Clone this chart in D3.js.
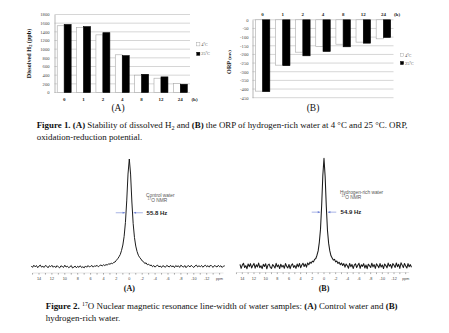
<!DOCTYPE html>
<html><head><meta charset="utf-8">
<script src="https://cdn.jsdelivr.net/npm/d3@7"></script>
<style>body{margin:0;background:#fff}svg{display:block}</style>
</head><body><svg id="c" width="449" height="333"></svg>
<script>
// ---------- data ----------
const hours = ["0","1","2","4","8","12","24"];
const seriesNames = ["4\u00baC","25\u00baC"];
const h2Cold = [1540,1500,1330,870,400,330,210];
const h2Warm = [1570,1520,1380,850,420,360,190];
const orpCold = [-412,-262,-187,-154,-141,-129,-110];
const orpWarm = [-415,-265,-208,-183,-156,-135,-102];
const h2Ticks = [0,200,400,600,800,1000,1200,1400,1600,1800];
const orpTicks = [0,-50,-100,-150,-200,-250,-300,-350,-400,-450];
const nmrTicks = [14,12,10,8,6,4,2,0,-2,-4,-6,-8,-10,-12];
const nmrStep = 0.2;
const nmrStartA = 15.2;
const nmrA = [
0.5,-0.8,1.2,-0.3,0.9,-1.1,0.4,1.3,-0.6,0.2,
-0.9,1.0,0.3,-1.2,0.7,-0.2,1.1,-0.7,0.5,-1.0,
0.8,-0.4,-1.3,0.6,0.1,-0.9,1.2,-0.5,0.3,-1.1,
-0.3,0.9,-1.4,-0.6,0.4,-1.2,0.2,-0.8,0.7,-1.0,
-0.2,-1.3,0.5,-0.7,0.9,-0.4,0.1,1.0,-0.6,0.6,
0.2,1.1,-0.3,0.8,1.4,0.5,1.6,0.9,1.8,1.3,
2.6,2.1,3.0,2.7,3.8,4.2,5.8,7.2,9.0,11.2,
15,20,28,41,61,86,
100,
86,60,40,27,19,14,
10.5,8.5,7,5.2,4.5,2.8,3.4,1.6,2.2,0.8,
1.4,-0.2,0.9,-0.6,0.7,1.2,-0.4,0.5,-0.9,0.8,
0.1,-0.7,1.0,0.3,-0.5,1.1,-0.3,0.6,-1.0,0.9,
-0.2,0.7,-0.8,1.2,0.2,-0.6,0.9,-1.1,0.4,0.8,
-0.5,1.1,0.0,-0.9,0.6,1.3,-0.4,0.7,-0.2,1.0,
-0.7,0.5,1.2,-0.3,0.8,-0.6,1.4,0.2,-0.8,0.9,
0.3,-0.5,1.1,-0.2,0.7,-0.9,0.4,0.6];
const nmrStartB = 14.4;
const nmrB = [
1.5,-2.2,0.8,2.6,-1.4,0.3,-2.5,1.9,-0.6,2.2,
-1.8,0.5,2.4,-2.0,1.1,-0.9,2.7,-1.5,0.2,-2.4,
1.6,-0.4,2.1,-2.6,0.9,1.8,-1.2,-2.3,1.3,0.1,
-1.9,2.5,-0.7,1.0,-2.4,1.7,-1.0,0.6,-2.1,2.3,
-0.3,-1.7,1.4,-2.5,0.7,2.0,-1.3,0.4,-2.2,1.8,
-0.8,2.4,-1.6,0.9,2.6,-0.5,1.9,-1.1,2.8,1.2,
3.6,2.5,4.5,3.8,6.2,7.0,10,14,22,34,
56,84,100,83,55,33,21,14,9.5,7.5,
5.5,6.2,3.8,4.6,2.4,3.5,1.2,2.8,0.4,2.2,
-1.1,1.9,0.3,-2.0,2.4,-0.6,1.5,-2.3,0.8,2.1,
-1.5,0.6,2.5,-2.1,1.2,-0.3,2.2,-1.8,0.9,-2.5,
1.7,0.2,-1.4,2.6,-0.8,1.3,-2.2,2.0,0.5,-1.6,
2.3,-0.9,1.0,-2.4,1.9,0.4,-1.7,2.7,-0.2,1.4,
-2.0,2.2,0.7,-1.3,2.8,-0.6,1.6,-2.3,3.0,0.8,
-1.5,2.4,0.1,-1.9,2.2,-0.7,1.3,-1.2];

// ---------- drawing ----------
const svg = d3.select("#c");
const SERIF = "'Liberation Serif','Times New Roman',serif";
const SANS = "'Liberation Sans',Arial,sans-serif";

function barChart(o){
  const g = svg.append("g");
  const x0 = d3.scaleBand().domain(hours).range([o.left,o.right]).paddingInner(0.28).paddingOuter(0.14);
  const x1 = d3.scaleBand().domain([0,1]).range([0,x0.bandwidth()]);
  const y = d3.scaleLinear().domain(o.domain).range([o.bottom,o.top]);
  g.append("g").selectAll("line").data(o.ticks).join("line")
    .attr("x1",o.left).attr("x2",o.right)
    .attr("y1",d=>y(d)).attr("y2",d=>y(d))
    .attr("stroke","#c4c4c4").attr("stroke-width",0.7);
  const ax = g.append("g").attr("transform",`translate(${o.left},0)`)
    .call(d3.axisLeft(y).tickValues(o.ticks).tickFormat(d=>String(d)).tickSize(0).tickPadding(o.tickPad));
  ax.select(".domain").attr("stroke","#999").attr("stroke-width",0.7);
  ax.selectAll("text").attr("font-family",SERIF).attr("font-size",4.6).attr("fill","#444");
  const base = y(o.baseVal);
  const data = hours.map((h,i)=>[o.s0[i],o.s1[i]]);
  const grp = g.append("g").selectAll("g").data(data).join("g")
    .attr("transform",(d,i)=>`translate(${x0(hours[i])},0)`);
  grp.selectAll("rect").data(d=>d.map((v,k)=>({v,k}))).join("rect")
    .attr("x",d=>x1(d.k)).attr("width",x1.bandwidth())
    .attr("y",d=>Math.min(y(d.v),base)).attr("height",d=>Math.abs(y(d.v)-base))
    .attr("fill",d=>d.k? "#000":"#fff")
    .attr("stroke",d=>d.k? "#000":"#a8a8a8").attr("stroke-width",0.6);
  g.append("g").selectAll("text").data(hours).join("text")
    .attr("x",d=>x0(d)+x0.bandwidth()/2).attr("y",o.catY)
    .attr("text-anchor","middle").attr("font-family",SERIF).attr("font-weight","bold")
    .attr("font-size",5).attr("fill","#222").text(d=>d);
  g.append("text").attr("x",o.hX).attr("y",o.catY).attr("text-anchor","middle")
    .attr("font-family",SERIF).attr("font-weight","bold").attr("font-size",5).attr("fill","#222").text("(h)");
  const lg = g.append("g").selectAll("g").data(seriesNames).join("g")
    .attr("transform",(d,i)=>`translate(${o.legX},${o.legY+i*o.legDy})`);
  lg.append("rect").attr("x",-1.6).attr("y",-1.6).attr("width",3.2).attr("height",3.2)
    .attr("fill",(d,i)=>i?"#000":"#fff").attr("stroke",(d,i)=>i?"#000":"#999").attr("stroke-width",0.4);
  lg.append("text").attr("x",3).attr("y",1.5).attr("font-family",SERIF).attr("font-size",4.4)
    .attr("fill","#555").text(d=>d);
  const t = g.append("text").attr("transform",`translate(${o.titleX},${o.titleY}) rotate(-90)`)
    .attr("text-anchor","middle").attr("font-family",SERIF).attr("font-weight","bold")
    .attr("font-size",o.titleSize).attr("fill","#111");
  o.title(t);
  g.append("text").attr("x",o.letterX).attr("y",111).attr("text-anchor","middle")
    .attr("font-family",SERIF).attr("font-size",9.5).attr("fill","#111").text(o.letter);
}

barChart({left:54.5,right:190,top:14.5,bottom:92.5,domain:[0,1800],ticks:h2Ticks,baseVal:0,
  s0:h2Cold,s1:h2Warm,catY:100.5,hX:194.5,legX:198.3,legY:44.3,legDy:9.5,tickPad:5,
  titleX:30.5,titleY:53.5,titleSize:6.2,letter:"(A)",letterX:118,
  title:t=>{t.append("tspan").text("Dissolved H");t.append("tspan").attr("font-size",4.3).attr("dy",1.3).text("2");t.append("tspan").attr("dy",-1.3).text(" (ppb)");}});

barChart({left:252.5,right:393.5,top:19.8,bottom:97.7,domain:[-450,0],ticks:orpTicks,baseVal:0,
  s0:orpCold,s1:orpWarm,catY:16,hX:397,legX:402,legY:55,legDy:8,tickPad:4,
  titleX:230.5,titleY:62,titleSize:6.2,letter:"(B)",letterX:313,
  title:t=>{t.append("tspan").text("ORP ");t.append("tspan").attr("font-size",4.8).text("(mv)");}});

// ---------- captions ----------
function caption(x,y1,y2,target,parts1,parts2){
  const mk=(y,parts)=>{
    const t=svg.append("text").attr("x",x).attr("y",y).attr("font-family",SERIF).attr("font-size",8.5).attr("fill","#111");
    parts.forEach(p=>{
      const s=t.append("tspan").text(p.t);
      if(p.b) s.attr("font-weight","bold");
      if(p.sub) s.attr("font-size","70%").attr("dy",2);
      if(p.sup) s.attr("font-size","65%").attr("dy",-3.5);
      if(p.dy) s.attr("dy",p.dy);
    });
    return t;
  };
  const l1=mk(y1,parts1), l2=mk(y2,parts2);
  const w=l1.node().getComputedTextLength();
  const fs=8.5*target/w;
  l1.attr("font-size",fs); l2.attr("font-size",fs);
}
caption(36.7,127.5,139.5,371.5,
  [{t:"Figure 1. ",b:1},{t:"(A)",b:1},{t:" Stability of dissolved H"},{t:"2",sub:1},{t:" and ",dy:-2},{t:"(B)",b:1},
   {t:" the ORP of hydrogen-rich water at 4 \u00b0C and 25 \u00b0C. ORP,"}],
  [{t:"oxidation-reduction potential."}]);
caption(45.7,309.3,320.5,352.6,
  [{t:"Figure 2. ",b:1},{t:"17",sup:1},{t:"O Nuclear magnetic resonance line-width of water samples: ",dy:3.5},{t:"(A)",b:1},
   {t:" Control water and "},{t:"(B)",b:1}],
  [{t:"hydrogen-rich water."}]);

// ---------- NMR spectra ----------
function spectrum(o){
  const g = svg.append("g");
  const x = d3.scaleLinear().domain([14,-12]).range([o.x14,o.xm12]);
  const y = d3.scaleLinear().domain([0,100]).range([o.base,o.top]);
  const pts = o.vals.map((v,i)=>({p:o.start-i*nmrStep,v}));
  g.append("path").datum(pts)
    .attr("d",d3.line().x(d=>x(d.p)).y(d=>y(d.v)))
    .attr("fill","none").attr("stroke",o.color).attr("stroke-width",o.sw).attr("stroke-linejoin","round");
  const minor = d3.range(15,-15,-1);
  g.append("line").attr("x1",x(15)).attr("x2",x(-14.6)).attr("y1",o.axisY).attr("y2",o.axisY)
    .attr("stroke","#bbb").attr("stroke-width",0.4);
  g.append("g").selectAll("line").data(minor).join("line")
    .attr("x1",d=>x(d)).attr("x2",d=>x(d)).attr("y1",o.axisY).attr("y2",o.axisY+1.6)
    .attr("stroke","#555").attr("stroke-width",0.5);
  g.append("g").selectAll("text").data(nmrTicks).join("text")
    .attr("x",d=>x(d)).attr("y",o.labY).attr("text-anchor","middle")
    .attr("font-family",SANS).attr("font-size",3.8).attr("fill","#444").text(d=>String(d));
  g.append("text").attr("x",x(-14)).attr("y",o.labY).attr("text-anchor","middle")
    .attr("font-family",SANS).attr("font-size",3.6).attr("fill","#444").text("ppm");
  const ay = y(50);
  const arrow=(from,to)=>{
    g.append("line").attr("x1",x(from)).attr("x2",x(to)).attr("y1",ay).attr("y2",ay)
      .attr("stroke","#6b7fd4").attr("stroke-width",0.6);
    const dir = Math.sign(x(to)-x(from));
    g.append("path").attr("d",`M${x(to)},${ay}L${x(to)-dir*2.4},${ay-1.1}L${x(to)-dir*2.4},${ay+1.1}Z`)
      .attr("fill","#6b7fd4");
  };
  arrow(2.1,0.66); arrow(-2.1,-0.68);
  g.append("text").attr("x",o.annX).attr("y",o.annY).attr("font-family",SANS).attr("font-size",4.8)
    .attr("fill","#555").text(o.name);
  const n = g.append("text").attr("x",o.annX+1.6).attr("y",o.annY+5).attr("font-family",SANS)
    .attr("font-size",4.8).attr("fill","#555");
  n.append("tspan").attr("font-size",3.2).attr("dy",-1.6).text("17");
  n.append("tspan").attr("dy",1.6).text("O NMR");
  g.append("text").attr("x",o.annX+0.6).attr("y",ay+2.2).attr("font-family",SANS).attr("font-weight","bold")
    .attr("font-size",6).attr("fill","#222").text(o.hz);
  g.append("text").attr("x",x(0)).attr("y",290.5).attr("text-anchor","middle")
    .attr("font-family",SERIF).attr("font-weight","bold").attr("font-size",8).attr("fill","#111").text(o.letter);
}
spectrum({vals:nmrA,start:nmrStartA,x14:39,xm12:206.7,base:266.5,top:159,axisY:273,labY:280,
  color:"#111",sw:0.95,annX:146,annY:196.5,name:"Control water",hz:"55.8 Hz",letter:"(A)"});
spectrum({vals:nmrB,start:nmrStartB,x14:242.3,xm12:394,base:266,top:158.3,axisY:272.5,labY:279.5,
  color:"#1a1a1a",sw:1.05,annX:340,annY:193.5,name:"Hydrogen-rich water",hz:"54.9 Hz",letter:"(B)"});
</script></body></html>
